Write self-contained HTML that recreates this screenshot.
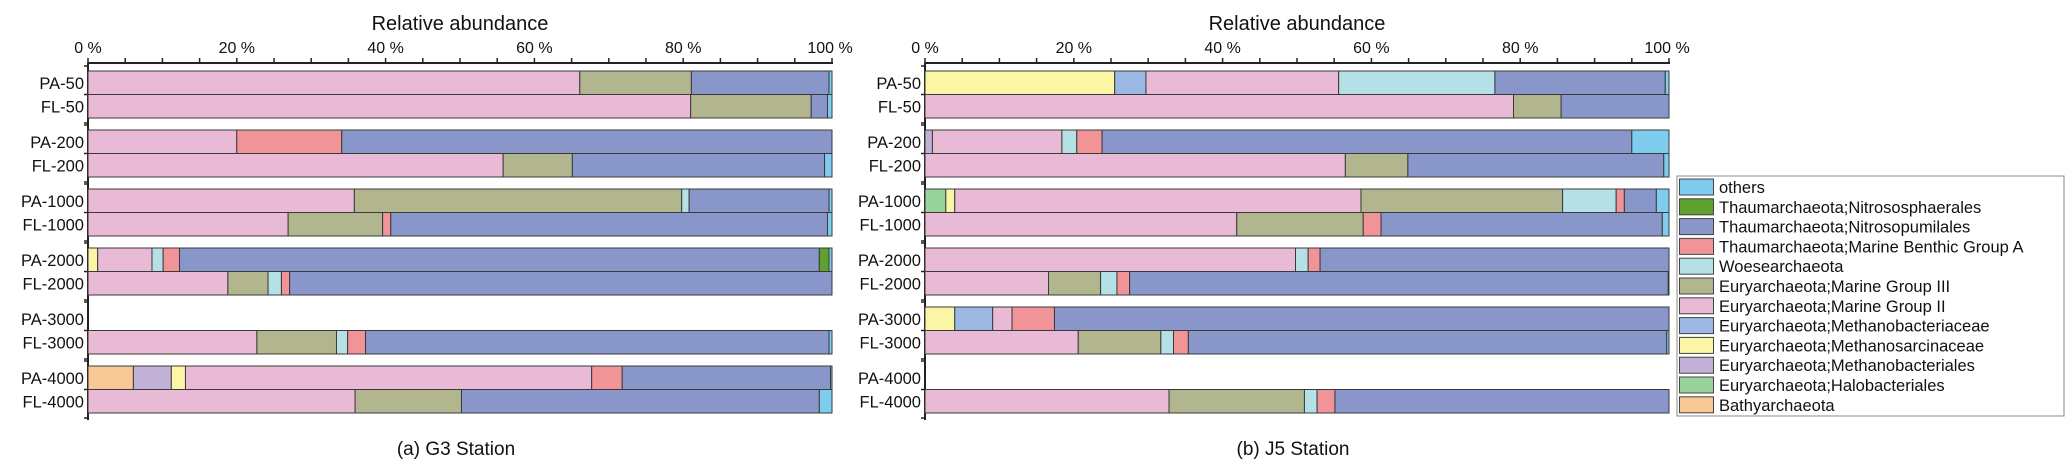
<!DOCTYPE html>
<html><head><meta charset="utf-8"><style>
html,body{margin:0;padding:0;background:#fff;}
svg{display:block;font-family:"Liberation Sans",Arial,sans-serif;}
</style></head><body>
<svg id="chart" width="2067" height="476" viewBox="0 0 2067 476"></svg>
<script>
const samples = ["PA-50","FL-50","PA-200","FL-200","PA-1000","FL-1000","PA-2000","FL-2000","PA-3000","FL-3000","PA-4000","FL-4000"];
const seriesNames = ["Bathyarchaeota","Euryarchaeota;Halobacteriales","Euryarchaeota;Methanobacteriales","Euryarchaeota;Methanosarcinaceae","Euryarchaeota;Methanobacteriaceae","Euryarchaeota;Marine Group II","Euryarchaeota;Marine Group III","Woesearchaeota","Thaumarchaeota;Marine Benthic Group A","Thaumarchaeota;Nitrosopumilales","Thaumarchaeota;Nitrososphaerales","others"];
const seriesColors = ["#f7c796","#98d39c","#c1b1d6","#fbf6a6","#9ab8e2","#e8bad6","#b1b68e","#b5e0e6","#f09498","#8996ca","#5fa12f","#7fcdee"];
const xTicks = [0,20,40,60,80,100];
// G3 station series (%)
const g3Bathy   = [0,0,0,0,0,0,0,0,0,0,6.1,0];
const g3Halo    = [0,0,0,0,0,0,0,0,0,0,0,0];
const g3MBales  = [0,0,0,0,0,0,0,0,0,0,5.1,0];
const g3MSarc   = [0,0,0,0,0,0,1.3,0,0,0,1.9,0];
const g3MBac    = [0,0,0,0,0,0,0,0,0,0,0,0];
const g3MGII    = [66.1,81,20,55.8,35.8,26.9,7.3,18.8,0,22.7,54.6,35.9];
const g3MGIII   = [15,16.2,0,9.3,44,12.7,0,5.4,0,10.7,0,14.3];
const g3Woese   = [0,0,0,0,1,0,1.5,1.8,0,1.5,0,0];
const g3MBGA    = [0,0,14.1,0,0,1.1,2.2,1.1,0,2.4,4.1,0];
const g3Npum    = [18.5,2.2,65.9,33.9,18.8,58.7,86,72.9,0,62.3,28,48.1];
const g3Nsph    = [0,0,0,0,0,0,1.3,0,0,0,0,0];
const g3Others  = [0.4,0.6,0,1,0.4,0.6,0.4,0,0,0.4,0.2,1.7];
// J5 station series (%)
const j5Bathy   = [0,0,0,0,0,0,0,0,0,0,0,0];
const j5Halo    = [0,0,0,0,2.8,0,0,0,0,0,0,0];
const j5MBales  = [0,0,1,0,0,0,0,0,0,0,0,0];
const j5MSarc   = [25.5,0,0,0,1.2,0,0,0,4,0,0,0];
const j5MBac    = [4.2,0,0,0,0,0,0,0,5.1,0,0,0];
const j5MGII    = [25.9,79.1,17.4,56.5,54.6,41.9,49.8,16.6,2.6,20.6,0,32.8];
const j5MGIII   = [0,6.4,0,8.4,27.1,17,0,7,0,11.1,0,18.2];
const j5Woese   = [21,0,2,0,7.2,0,1.7,2.2,0,1.7,0,1.7];
const j5MBGA    = [0,0,3.4,0,1.1,2.4,1.6,1.7,5.7,2,0,2.4];
const j5Npum    = [22.9,14.5,71.2,34.4,4.3,37.8,46.9,72.4,82.6,64.3,0,44.9];
const j5Nsph    = [0,0,0,0,0,0,0,0,0,0,0,0];
const j5Others  = [0.5,0,5,0.7,1.7,0.9,0,0.1,0,0.3,0,0];

const g3Series = [g3Bathy,g3Halo,g3MBales,g3MSarc,g3MBac,g3MGII,g3MGIII,g3Woese,g3MBGA,g3Npum,g3Nsph,g3Others];
const j5Series = [j5Bathy,j5Halo,j5MBales,j5MSarc,j5MBac,j5MGII,j5MGIII,j5Woese,j5MBGA,j5Npum,j5Nsph,j5Others];

const NS = "http://www.w3.org/2000/svg";
const svg = document.getElementById("chart");
function mk(tag, attrs, parent, text){
  const e = document.createElementNS(NS, tag);
  for (const k in attrs) e.setAttribute(k, attrs[k]);
  if (text !== undefined) e.textContent = text;
  (parent||svg).appendChild(e);
  return e;
}
const rowH = 23.5, groupPitch = 59, top0 = 71, axisY = 63;
function yRow(i){ return top0 + Math.floor(i/2)*groupPitch + (i%2)*rowH; }

function panel(x0, x1, series, key, caption){
  const g = mk("g", {});
  
  
  const xs = v => x0 + (x1 - x0) * v / 100;
  const t = mk("text", {x:(x0+x1)/2, y:30, "font-size":20, "text-anchor":"middle", fill:"#111"}, g, "Relative abundance");
  
  
  for (let v = 0; v <= 100; v += 5){
    const tk = mk("line", {x1:xs(v), x2:xs(v), y1:axisY, y2:axisY-5, stroke:"#222", "stroke-width":1.5}, g);
    
    
  }
  xTicks.forEach(v => {
    const l = mk("text", {x:xs(v)+(v===100?-2:0), y:53, "font-size":16, "text-anchor":"middle", fill:"#111"}, g, v + " %");
    
    
  });
  const ax = mk("line", {x1:x0, x2:x1+1, y1:axisY, y2:axisY, stroke:"#222", "stroke-width":2}, g);
  
  
  const yax = mk("line", {x1:x0, x2:x0, y1:axisY, y2:420, stroke:"#222", "stroke-width":2}, g);
  
  
  for (let k = 0; k < 6; k++){
    const gy = top0 + k*groupPitch;
    [gy-5, gy+rowH, gy+2*rowH+5].forEach(yy => {
      const yt = mk("line", {x1:x0-4, x2:x0, y1:yy, y2:yy, stroke:"#222", "stroke-width":1.5}, g);
      
      
    });
  }
  samples.forEach((s, i) => {
    const y = yRow(i);
    const lab = mk("text", {x:x0-4, y:y+rowH/2+6, "font-size":16.5, "text-anchor":"end", fill:"#111"}, g, s);
    
    
    let cum = 0;
    series.forEach((arr, si) => {
      const v = arr[i];
      if (v > 0){
        const r = mk("rect", {x:xs(cum), y:y, width:xs(cum+v)-xs(cum), height:rowH, fill:seriesColors[si], stroke:"#3a3a3a", "stroke-width":1}, g);
        
        
        mk("title", {}, r, s + " " + seriesNames[si] + ": " + v + "%");
      }
      cum += v;
    });
  });
  const c = mk("text", {x:(x0+x1)/2 - 4, y:455, "font-size":19, "text-anchor":"middle", fill:"#111"}, g, caption);
  
  
}
panel(88, 832, g3Series, "g3", "(a) G3 Station");
panel(925, 1669, j5Series, "j5", "(b) J5 Station");

const lg = mk("g", {});


const lb = mk("rect", {x:1677, y:176, width:387, height:240, fill:"#fff", stroke:"#888", "stroke-width":1}, lg);


for (let k = 0; k < 12; k++){
  const si = 11 - k;
  const yy = 179 + k*19.8;
  const sw = mk("rect", {x:1679.5, y:yy, width:34, height:16, fill:seriesColors[si], stroke:"#444", "stroke-width":1}, lg);
  
  
  const tx = mk("text", {x:1719, y:yy+14, "font-size":16.5, fill:"#111"}, lg, seriesNames[si]);
  
  
}
</script>
</body></html>
